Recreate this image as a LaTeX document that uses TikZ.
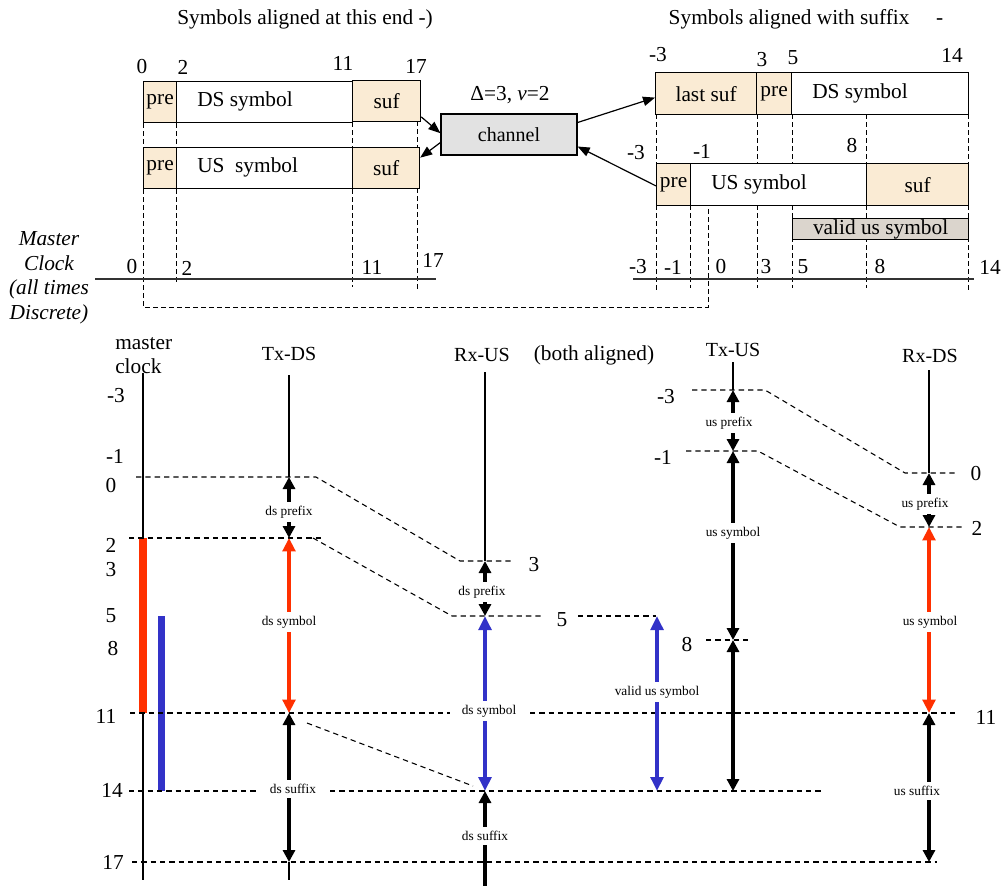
\documentclass[tikz,border=0pt]{standalone}
\usepackage{fontspec}
\setmainfont{Liberation Serif}
\usepackage{tikz}
\usetikzlibrary{arrows.meta}

\definecolor{sufcol}{RGB}{250,235,212}
\definecolor{validcol}{RGB}{219,213,205}
\definecolor{chancol}{RGB}{226,226,226}
\definecolor{dsred}{RGB}{255,48,0}
\definecolor{usblue}{RGB}{50,50,200}

\tikzset{
  seg/.style={draw, line width=0.9pt, inner sep=0pt, anchor=north west,
    minimum height=30.75pt, font=\fontsize{16}{18}\selectfont},
  num/.style={inner sep=0pt, font=\fontsize{16}{18}\selectfont},
  hdr/.style={inner sep=0pt, font=\fontsize{15}{18}\selectfont},
  tinylbl/.style={inner sep=3pt, font=\fontsize{10}{12}\selectfont},
  guide/.style={dash pattern=on 3.5pt off 2.5pt, line width=0.7pt},
  tline/.style={dash pattern=on 4pt off 3pt, line width=0.8pt},
  headarr/.style={line width=0.9pt, -{Triangle[length=9pt,width=7pt]}},
  blkarr/.style={line width=3pt, -{Triangle[length=9pt,width=9pt]}},
  blkboth/.style={line width=3pt, {Triangle[length=9pt,width=9pt]}-{Triangle[length=9pt,width=9pt]}},
  redarr/.style={dsred, line width=2.4pt, -{Triangle[length=10pt,width=9.5pt]}},
  bluarr/.style={usblue, line width=2.6pt, -{Triangle[length=10.5pt,width=9.5pt]}},
}

\begin{document}
\begin{tikzpicture}[x=0.75pt, y=-0.75pt]
\useasboundingbox (0,0) rectangle (1005,886);

% Symbols as sent, both ends aligned
\node[num] (ttl-left) at (305,19) {Symbols aligned at this end -)};
\foreach \x/\y/\t in {142/67/0, 183/67/2, 343/63/11, 416/66/17}
  \node[num] at (\x,\y) {\t};

\node[seg, fill=sufcol, minimum width=24.75pt] (dspre) at (143,81) {pre};
\node[seg, minimum width=132pt] (dssym) at (176,81) {};
\node[num, anchor=west] at (197,101.5) {DS symbol};
\node[seg, fill=sufcol, minimum width=51pt] (dssuf) at (352,80) {suf};

\node[seg, fill=sufcol, minimum width=24.75pt] (uspre) at (143,147) {pre};
\node[seg, minimum width=132pt] (ussym) at (176,147) {};
\node[num, anchor=west] at (197,167.5) {US\ \ symbol};
\node[seg, fill=sufcol, minimum width=50.25pt] (ussuf) at (352,147) {suf};

% channel in the middle
\node[draw, line width=0.9pt, fill=chancol, minimum width=102pt, minimum height=30.75pt,
  font=\fontsize{15}{18}\selectfont] (channel) at (509,134.5) {channel};
\node[num] (chparam) at (510,95) {Δ=3, \textit{ν}=2};

\draw[headarr] ([yshift=4pt]dssuf.south east) -- ([yshift=1pt]channel.west);
\draw[headarr] ([yshift=-6pt]channel.west) -- ([yshift=-8pt]ussuf.north east);

% guides down to the master clock
\draw[guide] (dspre.south west) -- (uspre.north west);
\draw[guide] (dssym.south west) -- (ussym.north west);
\draw[guide] (dssuf.south west) -- (ussuf.north west);
\draw[guide] (417,121) -- (417,147);
\draw[guide] (uspre.south west) -- (143,307) -- (708,307) -- (708,205);
\draw[guide] (ussym.south west) -- (176,284);
\draw[guide] (ussuf.south west) -- (352,287);
\draw[guide] (417,188) -- (417,289);

\draw[line width=0.9pt, black!80] (95,279) -- (436,279);
\foreach \x/\y/\t in {132/267/0, 187/268/2, 372/267/11, 433/260/17}
  \node[num] at (\x,\y) {\t};

\node[num, align=center, font=\fontsize{16}{18.4}\selectfont\itshape] (mclk-note) at (49,278)
  {Master\\Clock\\(all times\\Discrete)};

% Symbols after the channel, aligned with the suffix
\node[num] (ttl-right) at (806,19) {Symbols aligned with suffix\quad\ -};
\foreach \x/\y/\t in {658/55/-3, 762/60/3, 793/58/5, 952/55/14, 636/153/-3, 702/151/-1, 852/146/8}
  \node[num] at (\x,\y) {\t};

\node[seg, fill=sufcol, minimum width=75.75pt, minimum height=31.5pt] (lastsuf) at (655,72) {last suf};
\node[seg, fill=sufcol, minimum width=26.25pt, minimum height=31.5pt] (rpre) at (756,72) {pre};
\node[seg, minimum width=132.75pt, minimum height=31.5pt] (rdssym) at (791,72) {};
\node[num, anchor=west] at (812,93) {DS symbol};

\node[seg, fill=sufcol, minimum width=25.5pt, minimum height=31.5pt] (rpre2) at (656,163) {pre};
\node[seg, minimum width=132pt, minimum height=31.5pt] (russym) at (690,163) {};
\node[num, anchor=west] at (711,184) {US symbol};
\node[seg, fill=sufcol, minimum width=76.5pt, minimum height=31.5pt] (russuf) at (866,163) {suf};

\draw[headarr] ([yshift=9pt]channel.east) -- ([yshift=-3pt]lastsuf.west);
\draw[headarr] ([yshift=-1pt]rpre2.west) -- ([yshift=-9pt]channel.east);

\foreach \x in {656,757,792,866,968}
  \draw[guide] (\x,114) -- (\x,163);
\foreach \x/\y in {656/290, 690/288, 757/288, 792/288, 866/288, 968/290}
  \draw[guide] (\x,205) -- (\x,\y);

\node[seg, fill=validcol, minimum width=132pt, minimum height=15.75pt] (validbox) at (792,218) {valid us symbol};

\draw[line width=0.9pt, black!80] (633,279) -- (974,279);
\foreach \x/\t in {638/-3, 673/-1, 721/0, 766/3, 803/5, 880/8, 990/14}
  \node[num] at (\x,267) {\t};

% ---- timing of the four ends ----
\node[num, align=left, anchor=west] (hd-mc) at (115,356) {master\\clock};
\node[hdr] (hd-txds) at (289,354) {Tx-DS};
\node[hdr] (hd-rxus) at (482,355) {Rx-US};
\node[num] (hd-both) at (594,355) {(both aligned)};
\node[hdr] (hd-txus) at (733,350) {Tx-US};
\node[hdr] (hd-rxds) at (930,356) {Rx-DS};

\coordinate (txds-0) at (289,477);
\coordinate (txds-2) at (289,538);
\coordinate (txds-11) at (289,713);
\coordinate (txds-17) at (289,862);
\coordinate (rxus-3) at (485,561);
\coordinate (rxus-5) at (485,616);
\coordinate (rxus-14) at (485,791);
\coordinate (rxus-end) at (485,886);
\coordinate (val-5) at (657,616);
\coordinate (val-14) at (657,791);
\coordinate (txus-m3) at (733,390);
\coordinate (txus-m1) at (733,451);
\coordinate (txus-8) at (733,640);
\coordinate (txus-14) at (733,791);
\coordinate (rxds-0) at (929,473);
\coordinate (rxds-2) at (929,527);
\coordinate (rxds-11) at (929,713);
\coordinate (rxds-17) at (929,862);

% time axes
\draw[line width=0.8pt] (143,373) -- (143,880);
\draw[line width=0.8pt] (289,375) -- (txds-0);
\draw[line width=0.8pt] (txds-17) -- (289,880);
\draw[line width=0.8pt] (485,372) -- (rxus-3);
\draw[line width=0.8pt] (733,362) -- (txus-m3);
\draw[line width=0.8pt] (929,370) -- (rxds-0);

\draw[dsred, line width=6pt] (143,538) -- (143,713);
\draw[usblue, line width=5.25pt] (161.5,616) -- (161.5,791);

% dashed time lines
\draw[tline] (136,477) -- (316,477) -- (460,561) -- (513,561);
\draw[tline] (129,538) -- (324,538);
\draw[tline] (313,538) -- (452,616) -- (543,616);
\draw[tline] (578,616) -- (656,616);
\draw[tline] (130,713) -- (450,713);
\draw[tline] (530,713) -- (958,713);
\draw[tline] (307,723) -- (473,786);
\draw[tline] (129,791) -- (258,791);
\draw[tline] (330,791) -- (823,791);
\draw[tline] (132,862) -- (937,862);
\draw[tline] (692,390) -- (765,390) -- (905,473) -- (958,473);
\draw[tline] (686,451) -- (758,451) -- (900,527) -- (965,527);
\draw[tline] (706,640) -- (748,640);

\foreach \x/\y/\t in {116/396/-3, 115/456/-1, 111/485/0, 111/545/2, 111/570/3, 111/616/5,
    113/648/8, 106/716/11, 112/790/14, 113/862/17, 534/565/3, 562/620/5,
    666/397/-3, 663/457/-1, 976/473/0, 977/528/2, 986/717/11, 687/644/8}
  \node[num] at (\x,\y) {\t};

% Tx-DS
\node[tinylbl] (txds-pre) at (289,512) {ds prefix};
\draw[blkarr] (txds-pre.north) -- (txds-0);
\draw[blkarr] (txds-pre.south) -- (txds-2);
\node[tinylbl] (txds-sym) at (289,622) {ds symbol};
\draw[redarr] (txds-sym.north) -- (txds-2);
\draw[redarr] (txds-sym.south) -- (txds-11);
\node[tinylbl] (txds-suf) at (293,789) {ds suffix};
\draw[blkarr] (txds-suf.north -| txds-11) -- (txds-11);
\draw[blkarr] (txds-suf.south -| txds-17) -- (txds-17);

% Rx-US
\node[tinylbl] (rxus-pre) at (482,592) {ds prefix};
\draw[blkarr] (rxus-pre.north -| rxus-3) -- (rxus-3);
\draw[blkarr] (rxus-pre.south -| rxus-5) -- (rxus-5);
\node[tinylbl] (rxus-sym) at (489,711) {ds symbol};
\draw[bluarr] (rxus-sym.north -| rxus-5) -- (rxus-5);
\draw[bluarr] (rxus-sym.south -| rxus-14) -- (rxus-14);
\node[tinylbl] (rxus-suf) at (485,836) {ds suffix};
\draw[blkarr] (rxus-suf.north) -- (rxus-14);
\draw[line width=3pt] (rxus-suf.south) -- (rxus-end);

% valid part of the upstream symbol
\node[tinylbl] (val-lbl) at (657,692) {valid us symbol};
\draw[bluarr] (val-lbl.north) -- (val-5);
\draw[bluarr] (val-lbl.south) -- (val-14);

% Tx-US
\node[tinylbl] (txus-pre) at (729,423) {us prefix};
\draw[blkarr] (txus-pre.north -| txus-m3) -- (txus-m3);
\draw[blkarr] (txus-pre.south -| txus-m1) -- (txus-m1);
\node[tinylbl] (txus-sym) at (733,533) {us symbol};
\draw[blkarr] (txus-sym.north) -- (txus-m1);
\draw[blkarr] (txus-sym.south) -- (txus-8);
\draw[blkboth] (txus-8) -- (txus-14);

% Rx-DS
\node[tinylbl] (rxds-pre) at (925,504) {us prefix};
\draw[blkarr] (rxds-pre.north -| rxds-0) -- (rxds-0);
\draw[blkarr] (rxds-pre.south -| rxds-2) -- (rxds-2);
\node[tinylbl] (rxds-sym) at (930,622) {us symbol};
\draw[redarr] (rxds-sym.north -| rxds-2) -- (rxds-2);
\draw[redarr] (rxds-sym.south -| rxds-11) -- (rxds-11);
\node[tinylbl] (rxds-suf) at (917,791) {us suffix};
\draw[blkarr] (rxds-suf.north -| rxds-11) -- (rxds-11);
\draw[blkarr] (rxds-suf.south -| rxds-17) -- (rxds-17);

\end{tikzpicture}
\end{document}
